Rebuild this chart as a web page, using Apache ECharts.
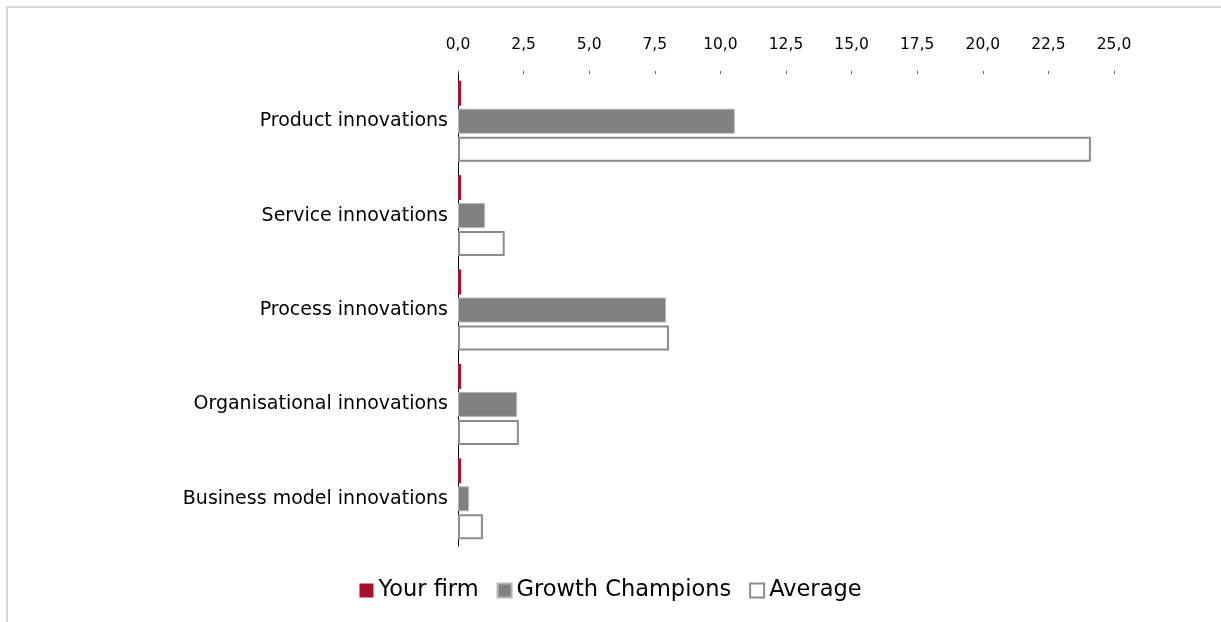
<!DOCTYPE html>
<html>
<head>
<meta charset="utf-8">
<script src="https://cdn.jsdelivr.net/npm/echarts@6/dist/echarts.min.js"></script>
<style>
  html, body { margin: 0; padding: 0; overflow: hidden; background: #fff; }
  #frame {
    position: absolute; left: 6px; top: 6px;
    width: 1400px; height: 800px;
    border: 2px solid #d6d6d6;
  }
  #chart { position: absolute; left: 0; top: 0; width: 1221px; height: 622px; }
</style>
</head>
<body>
<div id="frame"></div>
<div id="chart"></div>
<script>
// 카테고리 / 시리즈 데이터
const categories = [
  "Product innovations",
  "Service innovations",
  "Process innovations",
  "Organisational innovations",
  "Business model innovations",
];
const yourFirm = [0.12, 0.12, 0.12, 0.12, 0.12];
const growthChampions = [10.55, 1.03, 7.93, 2.25, 0.42];
const average = [24.12, 1.78, 8.04, 2.32, 0.95];
const seriesNames = ["Your firm", "Growth Champions", "Average"];

const chart = echarts.init(document.getElementById("chart"));

// 0,0 형태로 소수점 쉼표 표시
const fmt = (v) => v.toFixed(1).replace(".", ",");

const option = {
  animation: false,
  grid: {
    left: 458,
    right: 107,
    top: 74,
    height: 472,
  },
  legend: {
    data: seriesNames,
    bottom: 15,
    left: "center",
    itemWidth: 14,
    itemHeight: 14,
    itemGap: 18,
    icon: "rect",
    textStyle: {
      fontFamily: "DejaVu Sans",
      fontSize: 22.5,
      color: "#000",
    },
  },
  xAxis: {
    type: "value",
    position: "top",
    min: 0,
    max: 25,
    interval: 2.5,
    axisLine: { show: false },
    axisTick: { show: true, length: 3, lineStyle: { color: "#666" } },
    splitLine: { show: false },
    axisLabel: {
      formatter: fmt,
      fontFamily: "DejaVu Sans",
      fontSize: 15.5,
      color: "#000",
      margin: 21,
    },
  },
  yAxis: {
    type: "category",
    data: categories,
    inverse: true,
    axisLine: { show: true, lineStyle: { color: "#000", width: 1 } },
    axisTick: { show: false },
    axisLabel: {
      fontFamily: "DejaVu Sans",
      fontSize: 19,
      color: "#000",
      margin: 10,
    },
  },
  series: [
    {
      name: seriesNames[0],
      type: "bar",
      data: yourFirm,
      barWidth: 25,
      barGap: "12%",
      itemStyle: { color: "#a5112f" },
    },
    {
      name: seriesNames[1],
      type: "bar",
      data: growthChampions,
      barWidth: 25,
      barGap: "12%",
      itemStyle: { color: "#808080", borderColor: "#b5b5b5", borderWidth: 1 },
    },
    {
      name: seriesNames[2],
      type: "bar",
      data: average,
      barWidth: 25,
      barGap: "12%",
      itemStyle: { color: "#ffffff", borderColor: "#8c8c8c", borderWidth: 2 },
    },
  ],
};

chart.setOption(option);
</script>
</body>
</html>
